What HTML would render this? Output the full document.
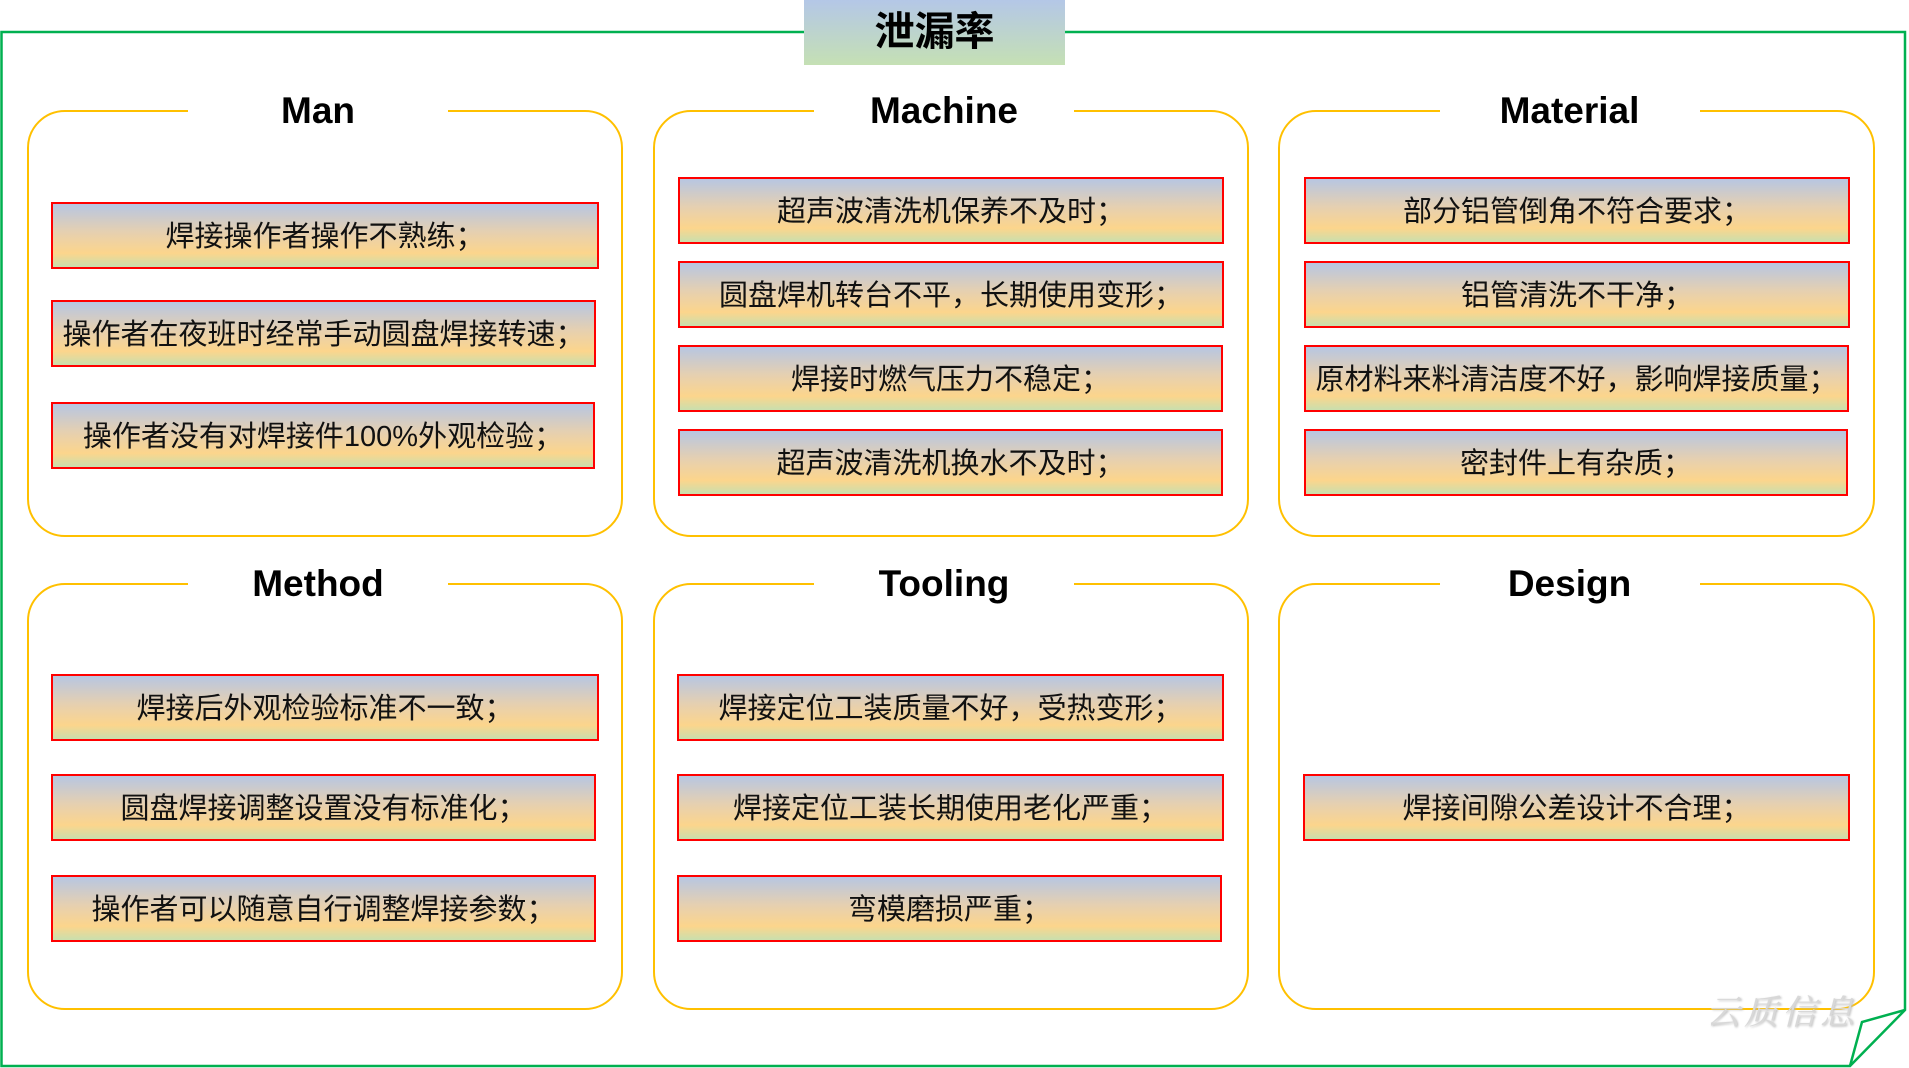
<!DOCTYPE html>
<html><head><meta charset="utf-8"><style>
html,body{margin:0;padding:0;background:#fff;}
body{width:1909px;height:1068px;position:relative;overflow:hidden;font-family:"Liberation Sans","Noto Sans CJK SC",sans-serif;}
.p{position:absolute;border:2.5px solid #ffc000;border-radius:38px;box-sizing:border-box;}
.t{position:absolute;background:#fff;font-weight:bold;font-size:37px;text-align:center;width:260px;height:44px;line-height:46px;top:-24px;left:50%;margin-left:-137px;color:#000;}
.b{position:absolute;box-sizing:border-box;border:2.5px solid #ff0000;background:linear-gradient(to bottom,#b7c6e2 0%,#e6d0b0 45%,#fcd58c 78%,#c9dfae 100%);font-size:29px;line-height:66px;text-align:center;color:#111;white-space:nowrap;height:67px;}
</style></head><body>
<svg width="1909" height="1068" style="position:absolute;left:0;top:0">
<path d="M1.5,32 H1905 V1010 L1850,1066 H1.5 Z" fill="none" stroke="#00b050" stroke-width="2.5"/>
<path d="M1905,1010 L1862,1022 L1850,1066" fill="none" stroke="#00b050" stroke-width="2.5"/>
</svg>
<div style="position:absolute;left:804px;top:0;width:261px;height:65px;background:linear-gradient(to bottom,#b4c7e7,#c5e0b4);font-weight:bold;font-size:40px;line-height:64px;text-align:center;">泄漏率</div>

<div class="p" style="left:27px;top:110px;width:596px;height:427px"><div class="t">Man</div></div>
<div class="p" style="left:653px;top:110px;width:596px;height:427px"><div class="t">Machine</div></div>
<div class="p" style="left:1278px;top:110px;width:597px;height:427px"><div class="t">Material</div></div>
<div class="p" style="left:27px;top:583px;width:596px;height:427px"><div class="t">Method</div></div>
<div class="p" style="left:653px;top:583px;width:596px;height:427px"><div class="t">Tooling</div></div>
<div class="p" style="left:1278px;top:583px;width:597px;height:427px"><div class="t">Design</div></div>

<div class="b" style="left:51px;top:202px;width:548px">焊接操作者操作不熟练；</div>
<div class="b" style="left:51px;top:300px;width:545px">操作者在夜班时经常手动圆盘焊接转速；</div>
<div class="b" style="left:51px;top:402px;width:544px">操作者没有对焊接件100%外观检验；</div>

<div class="b" style="left:678px;top:177px;width:546px">超声波清洗机保养不及时；</div>
<div class="b" style="left:678px;top:261px;width:546px">圆盘焊机转台不平，长期使用变形；</div>
<div class="b" style="left:678px;top:345px;width:545px">焊接时燃气压力不稳定；</div>
<div class="b" style="left:678px;top:429px;width:545px">超声波清洗机换水不及时；</div>

<div class="b" style="left:1304px;top:177px;width:546px">部分铝管倒角不符合要求；</div>
<div class="b" style="left:1304px;top:261px;width:546px">铝管清洗不干净；</div>
<div class="b" style="left:1304px;top:345px;width:545px">原材料来料清洁度不好，影响焊接质量；</div>
<div class="b" style="left:1304px;top:429px;width:544px">密封件上有杂质；</div>

<div class="b" style="left:51px;top:674px;width:548px">焊接后外观检验标准不一致；</div>
<div class="b" style="left:51px;top:774px;width:545px">圆盘焊接调整设置没有标准化；</div>
<div class="b" style="left:51px;top:875px;width:545px">操作者可以随意自行调整焊接参数；</div>

<div class="b" style="left:677px;top:674px;width:547px">焊接定位工装质量不好，受热变形；</div>
<div class="b" style="left:677px;top:774px;width:547px">焊接定位工装长期使用老化严重；</div>
<div class="b" style="left:677px;top:875px;width:545px">弯模磨损严重；</div>

<div class="b" style="left:1303px;top:774px;width:547px">焊接间隙公差设计不合理；</div>

<div style="position:absolute;left:1706px;top:985px;font-size:34px;color:#d8d8d8;font-family:'Noto Serif CJK SC',serif;font-style:italic;text-shadow:1px 1px 2px #bbb;letter-spacing:4px;">云质信息</div>
</body></html>
